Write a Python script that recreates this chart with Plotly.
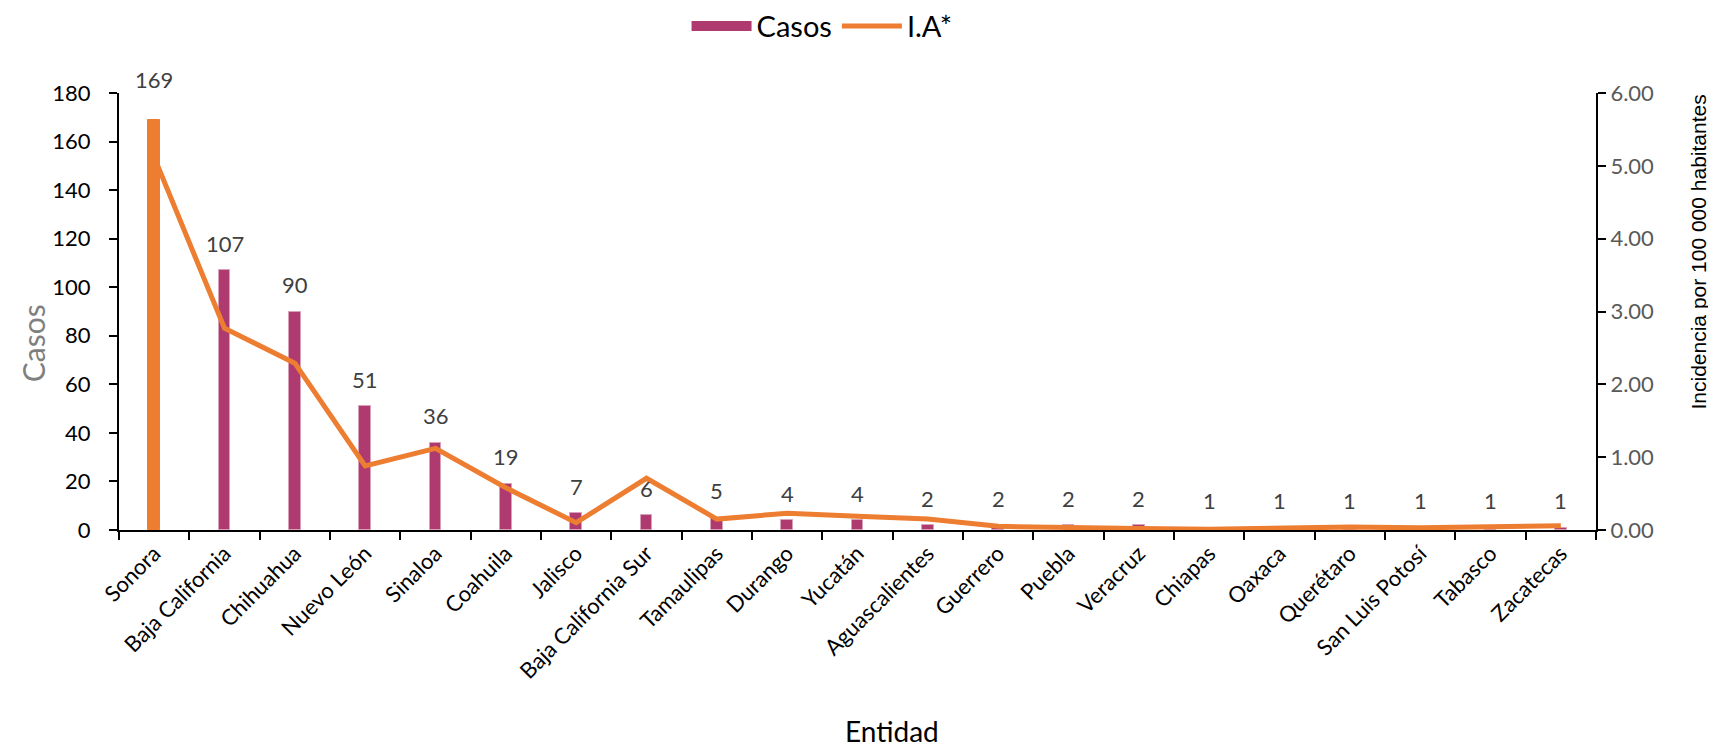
import plotly.graph_objects as go

entidades = ["Sonora", "Baja California", "Chihuahua", "Nuevo León", "Sinaloa", "Coahuila",
             "Jalisco", "Baja California Sur", "Tamaulipas", "Durango", "Yucatán",
             "Aguascalientes", "Guerrero", "Puebla", "Veracruz", "Chiapas", "Oaxaca",
             "Querétaro", "San Luis Potosí", "Tabasco", "Zacatecas"]
casos = [169, 107, 90, 51, 36, 19, 7, 6, 5, 4, 4, 2, 2, 2, 2, 1, 1, 1, 1, 1, 1]
ia = [5.12, 2.77, 2.29, 0.88, 1.12, 0.58, 0.10, 0.71, 0.15, 0.23, 0.19, 0.15,
      0.05, 0.03, 0.02, 0.01, 0.02, 0.04, 0.03, 0.04, 0.06]

MAROON = "#AE3A6F"
ORANGE = "#ED7D31"
bar_colors = [ORANGE] + [MAROON] * (len(entidades) - 1)
bar_lines = [ORANGE] + ["#D9A0BA"] * (len(entidades) - 1)

FONT = "Lato"

fig = go.Figure()
# legend-only swatch for the bars (wide rectangle like the original)
fig.add_trace(go.Scatter(
    x=[None], y=[None], name="Casos", mode="lines",
    line=dict(color=MAROON, width=17), showlegend=True, hoverinfo="skip",
))
fig.add_trace(go.Bar(
    x=entidades, y=casos, name="Casos", showlegend=False,
    marker=dict(color=bar_colors, line=dict(color=bar_lines, width=1)),
    width=0.17, yaxis="y",
))
fig.add_trace(go.Scatter(
    x=entidades, y=ia, name="I.A*", mode="lines",
    line=dict(color=ORANGE, width=5), yaxis="y2",
))

annotations = []
for i, (e, c) in enumerate(zip(entidades, casos)):
    annotations.append(dict(
        x=e, y=c, xref="x", yref="y", text=str(c), showarrow=False,
        yshift=40 if i == 0 else 27,
        font=dict(family=FONT, size=22, color="#404040"),
    ))

annotations += [
    dict(text="Casos", xref="paper", yref="paper", x=-0.058, y=0.428,
         xanchor="center", yanchor="middle",
         textangle=-90, showarrow=False,
         font=dict(family=FONT, size=30, color="#7F7F7F")),
    dict(text="Incidencia por 100 000 habitantes", xref="paper", yref="paper",
         x=1.0785, y=0.636, xanchor="right", yanchor="middle",
         textangle=-90, showarrow=False,
         font=dict(family="Liberation Sans, Arial", size=21, color="#000000")),
    dict(text="Entidad", xref="paper", yref="paper", x=0.5236, y=-0.46,
         xanchor="center", yanchor="middle",
         showarrow=False, font=dict(family=FONT, size=28, color="#000000")),
]

fig.update_layout(
    width=1716, height=748,
    margin=dict(l=111, r=128, t=85, b=226, autoexpand=False),
    paper_bgcolor="white", plot_bgcolor="white",
    font=dict(family=FONT, color="#000000"),
    showlegend=True,
    legend=dict(orientation="h", x=0.476, xanchor="center", y=1.153, yanchor="middle",
                font=dict(family=FONT, size=29, color="#000000"),
                itemwidth=60, tracegroupgap=0),
    xaxis=dict(
        type="category", categoryorder="array", categoryarray=entidades,
        showline=True, linecolor="#000000", linewidth=2,
        ticks="outside", tickson="boundaries", ticklen=8, tickwidth=2, tickcolor="#000000",
        tickangle=-45, tickfont=dict(family=FONT, size=22, color="#000000"),
        showgrid=False, zeroline=False, automargin=False,
    ),
    yaxis=dict(
        range=[0, 180], dtick=20, tick0=0,
        showline=True, linecolor="#000000", linewidth=2,
        ticks="outside", ticklen=8, tickwidth=2, tickcolor="#000000",
        ticklabelstandoff=14,
        tickfont=dict(family=FONT, size=22, color="#000000"),
        showgrid=False, zeroline=False, automargin=False,
    ),
    yaxis2=dict(
        range=[0, 6], dtick=1, tick0=0, tickformat=".2f",
        overlaying="y", side="right",
        showline=True, linecolor="#000000", linewidth=2,
        ticks="outside", ticklen=8, tickwidth=2, tickcolor="#000000",
        tickfont=dict(family=FONT, size=22, color="#595959"),
        showgrid=False, zeroline=False, automargin=False,
    ),
    annotations=annotations,
    bargap=0.0,
)

fig.write_html("out.html")
